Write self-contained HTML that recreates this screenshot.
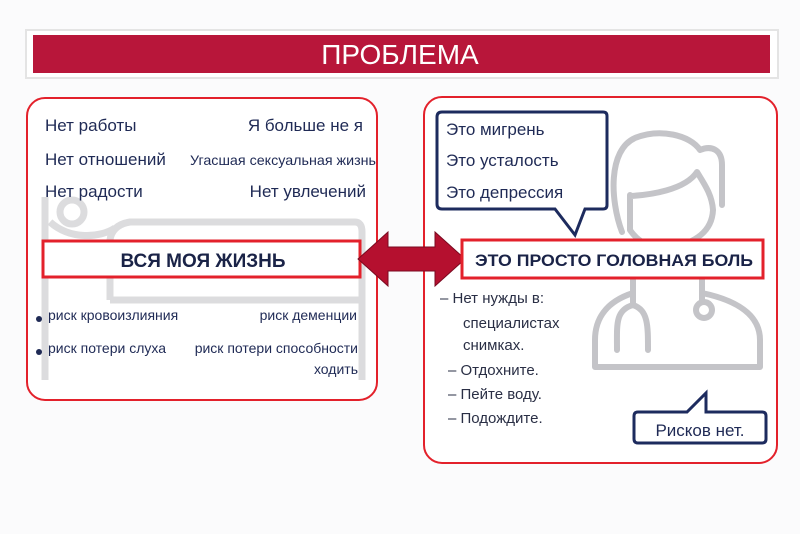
<!DOCTYPE html>
<html><head><meta charset="utf-8"><style>
html,body{margin:0;padding:0;background:#fff;}
svg{display:block;font-family:"Liberation Sans",Arial,sans-serif;}
</style></head><body>
<svg width="800" height="534" viewBox="0 0 800 534" xmlns="http://www.w3.org/2000/svg">
<rect width="800" height="534" fill="#fbfbfc"/>
<rect x="26" y="30" width="752" height="48" fill="#fff" stroke="#e4e4e4" stroke-width="2"/>
<rect x="33" y="35" width="737" height="38" fill="#b8163a"/>
<text x="400" y="64" text-anchor="middle" fill="#fff" font-size="28">ПРОБЛЕМА</text>

<rect x="27" y="98" width="350" height="302" rx="18" fill="#fff" stroke="#e3212b" stroke-width="2"/>
<rect x="424" y="97" width="353" height="366" rx="18" fill="#fff" stroke="#e3212b" stroke-width="2"/>

<!-- bed -->
<g fill="none" stroke="#dcdcde" stroke-width="7">
<path d="M45 197 V380"/>
<circle cx="72" cy="212" r="12"/>
<path d="M50 222 C70 240 100 238 115 228"/>
<path d="M110 300 V240 Q112 225 130 222 H355 Q362 222 362 232 V380"/>
<path d="M110 300 H362"/>
</g>

<g fill="#1f2a55" font-size="17">
<text x="45" y="131">Нет работы</text>
<text x="363" y="131" text-anchor="end">Я больше не я</text>
<text x="45" y="165">Нет отношений</text>
<text x="376" y="165" text-anchor="end" font-size="14" textLength="186" lengthAdjust="spacingAndGlyphs">Угасшая сексуальная жизнь</text>
<text x="45" y="197">Нет радости</text>
<text x="366" y="197" text-anchor="end">Нет увлечений</text>
</g>

<rect x="43" y="241" width="317" height="36" fill="#fff" stroke="#e3212b" stroke-width="3"/>
<text x="203" y="267" text-anchor="middle" font-size="19" font-weight="bold" fill="#1a2347">ВСЯ МОЯ ЖИЗНЬ</text>

<g fill="#1f2a55" font-size="14">
<circle cx="39" cy="319" r="3"/><circle cx="39" cy="352" r="3"/>
<text x="48" y="320">риск кровоизлияния</text>
<text x="357" y="320" text-anchor="end">риск деменции</text>
<text x="48" y="353">риск потери слуха</text>
<text x="358" y="353" text-anchor="end">риск потери способности</text>
<text x="358" y="374" text-anchor="end">ходить</text>
</g>

<!-- double arrow -->
<polygon points="358,259 388,232 388,247 435,247 435,232 465,259 435,286 435,271 388,271 388,286" fill="#b5102f" stroke="#7a0a20" stroke-width="1"/>

<!-- doctor -->
<g fill="none" stroke="#c4c4c8" stroke-width="6" stroke-linejoin="round" stroke-linecap="round">
<path d="M622 232 C610 200 608 150 635 138 C660 128 690 135 700 150 C712 145 722 150 722 165 V205"/>
<path d="M630 195 V230 C640 245 660 252 672 248 C695 242 712 232 713 210 C712 195 705 185 697 172 C685 190 650 195 630 196"/>
<path d="M633 280 V293 C605 302 595 320 595 340 V367 H760 V340 C760 320 745 302 702 293 V280"/>
<path d="M633 293 V305 C615 310 617 325 617 350"/>
<path d="M633 305 C648 310 648 325 648 350"/>
<path d="M702 293 V301"/>
<circle cx="704" cy="310" r="8"/>
</g>

<!-- speech bubble top -->
<path d="M442 112 H603 Q607 112 607 116 V205 Q607 209 603 209 H585 L575 235 L555 209 H442 Q437 209 437 204 V117 Q437 112 442 112 Z" fill="#fff" stroke="#1d2b5e" stroke-width="3"/>
<g fill="#1f2a55" font-size="17">
<text x="446" y="135">Это мигрень</text>
<text x="446" y="166">Это усталость</text>
<text x="446" y="198">Это депрессия</text>
</g>

<rect x="462" y="240" width="301" height="38" fill="#fff" stroke="#e3212b" stroke-width="3"/>
<text x="614" y="266" text-anchor="middle" font-size="17" font-weight="bold" fill="#1a2347" textLength="278" lengthAdjust="spacingAndGlyphs">ЭТО ПРОСТО ГОЛОВНАЯ БОЛЬ</text>

<g fill="#2a2f45" font-size="15">
<text x="440" y="303">– Нет нужды в:</text>
<text x="463" y="328">специалистах</text>
<text x="463" y="350">снимках.</text>
<text x="448" y="375">– Отдохните.</text>
<text x="448" y="399">– Пейте воду.</text>
<text x="448" y="423">– Подождите.</text>
</g>

<path d="M638 412 H687 L706 393 V412 H762 Q766 412 766 416 V439 Q766 443 762 443 H638 Q634 443 634 439 V416 Q634 412 638 412 Z" fill="#fff" stroke="#1d2b5e" stroke-width="3"/>
<text x="700" y="436" text-anchor="middle" font-size="17" fill="#1f2a55">Рисков нет.</text>
</svg>
</body></html>
